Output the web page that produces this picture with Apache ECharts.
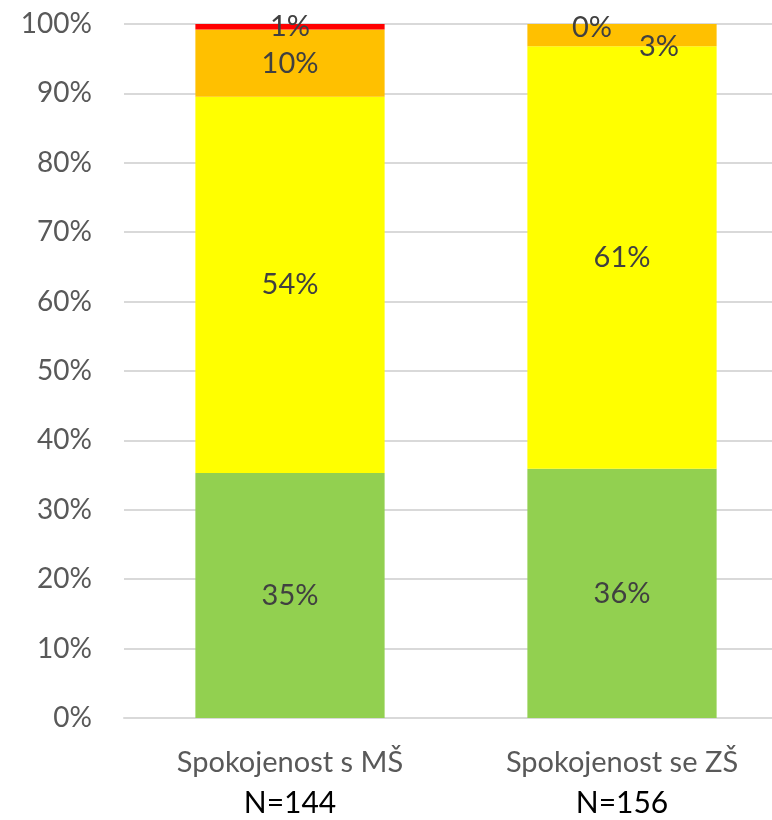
<!DOCTYPE html>
<html style="height: 100%">
<head>
    <meta charset="utf-8">
    <script src="https://cdn.jsdelivr.net/npm/echarts@6/dist/echarts.min.js"></script>
</head>
<body style="height: 100%; margin: 0">
    <div id="container" style="width: 772px; height: 820px"></div>
    <script type="text/javascript">
        var categories = ['Spokojenost s MŠ', 'Spokojenost se ZŠ'];
        var sampleSizes = ['N=144', 'N=156'];
        var greenValues = [35.3, 35.9];
        var yellowValues = [54.2, 60.9];
        var orangeValues = [9.7, 3.2];
        var redValues = [0.8, 0];

        var myChart = echarts.init(document.getElementById('container'));
        var font = 'Lato, "Open Sans", sans-serif';

        function pct(p) {
            return Math.round(p.value) + '%';
        }

        function makeSeries(name, values, color, offsets) {
            return {
                name: name,
                type: 'bar',
                stack: 'total',
                barWidth: '57%',
                itemStyle: { color: color },
                label: {
                    show: true,
                    position: 'inside',
                    formatter: pct,
                    color: '#404040',
                    fontSize: 29,
                    fontFamily: font
                },
                data: values.map(function (v, i) {
                    var item = { value: v };
                    if (offsets && offsets[i]) {
                        item.label = { offset: offsets[i] };
                    }
                    return item;
                })
            };
        }

        var option = {
            backgroundColor: '#fff',
            animation: false,
            grid: { left: 124, right: -16, top: 24, bottom: 102, outerBoundsMode: 'none' },
            xAxis: {
                type: 'category',
                data: categories,
                axisTick: { show: false },
                axisLine: { lineStyle: { color: '#d9d9d9', width: 2 } },
                axisLabel: {
                    margin: 25,
                    formatter: function (v, i) {
                        return '{a|' + v + '}\n{b|' + sampleSizes[i] + '}';
                    },
                    rich: {
                        a: { color: '#595959', fontSize: 29, fontFamily: font, lineHeight: 40 },
                        b: { color: '#000', fontSize: 30, fontFamily: font, lineHeight: 40 }
                    }
                }
            },
            yAxis: {
                type: 'value',
                min: 0,
                max: 100,
                interval: 10,
                axisLabel: {
                    formatter: '{value}%',
                    color: '#595959',
                    fontSize: 28,
                    fontFamily: font,
                    margin: 32
                },
                splitLine: { lineStyle: { color: '#d9d9d9', width: 2 } }
            },
            series: [
                makeSeries('green', greenValues, '#92d050'),
                makeSeries('yellow', yellowValues, '#ffff00'),
                makeSeries('orange', orangeValues, '#ffc000', [null, [37, 12]]),
                makeSeries('red', redValues, '#ff0000', [null, [-30, 4]])
            ]
        };
        myChart.setOption(option);
    </script>
</body>
</html>
